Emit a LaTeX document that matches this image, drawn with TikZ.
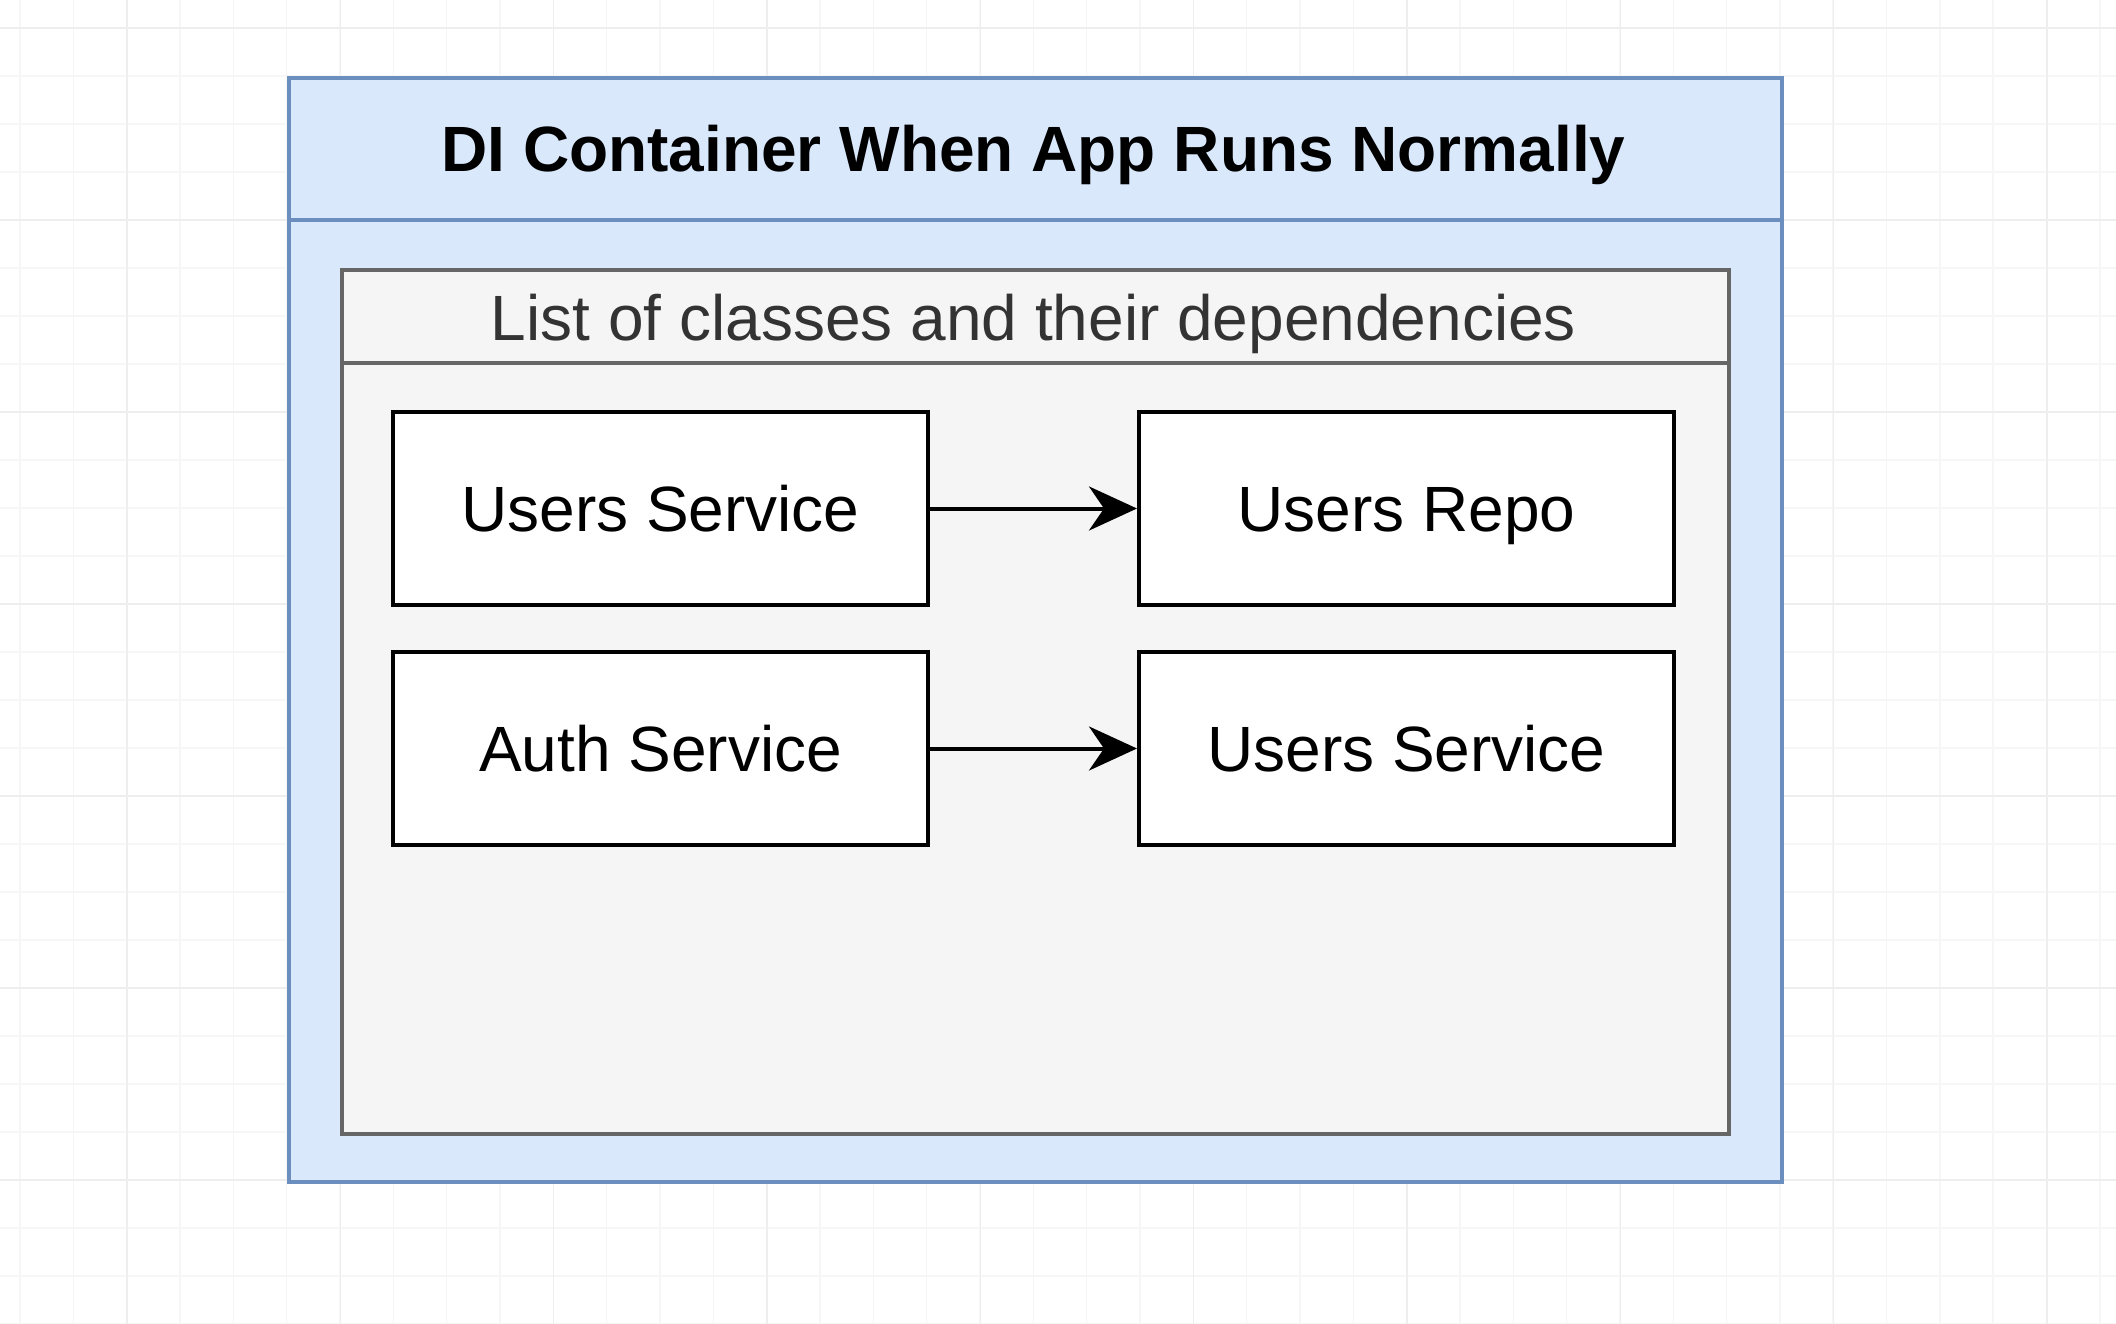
\documentclass[tikz,border=0pt]{standalone}
\usepackage{fontspec}
\setmainfont{Liberation Sans}
\usetikzlibrary{arrows.meta}
\definecolor{outerfill}{HTML}{DAE8FC}
\definecolor{outerdraw}{HTML}{6C8EBF}
\definecolor{innerfill}{HTML}{F5F5F5}
\definecolor{innerdraw}{HTML}{666666}
\definecolor{innertext}{HTML}{333333}
\definecolor{gridminor}{HTML}{F6F6F6}
\definecolor{gridmajor}{HTML}{EEEEEE}
\begin{document}
\begin{tikzpicture}[x=1pt,y=-1pt,
  bigfont/.style={font=\fontsize{64}{76}\selectfont},
  outerbox/.style={draw=outerdraw, fill=outerfill, line width=4pt, rectangle, inner sep=0pt, anchor=north west},
  innerbox/.style={draw=innerdraw, fill=innerfill, line width=4pt, rectangle, inner sep=0pt, anchor=north west},
  classbox/.style={draw=black, fill=white, line width=4pt, rectangle, inner sep=0pt,
     minimum width=535pt, minimum height=193pt, bigfont, text height=46pt, text depth=0pt},
  titletext/.style={font=\fontsize{64}{76}\selectfont\bfseries, inner sep=0pt, text height=46pt, text depth=0pt},
  headtext/.style={bigfont, text=innertext, inner sep=0pt, text height=46pt, text depth=0pt},
  dep/.style={draw=black, line width=4pt, -{Stealth[length=48pt, width=44pt, inset=15pt]}}
]
\useasboundingbox (0,0) rectangle (2116,1324);
\fill[white] (0,0) rectangle (2116,1324);
% background grid
\foreach \k in {0,...,39} {
  \draw[gridminor, line width=1.5pt] ({20+53.33*\k},0) -- ({20+53.33*\k},1324);
}
\foreach \k in {0,...,27} {
  \draw[gridminor, line width=1.5pt] (0,{28+48*\k}) -- (2116,{28+48*\k});
}
\foreach \k in {0,...,9} {
  \draw[gridmajor, line width=1.5pt] ({127+213.33*\k},0) -- ({127+213.33*\k},1324);
}
\foreach \k in {0,...,6} {
  \draw[gridmajor, line width=1.5pt] (0,{28+192*\k}) -- (2116,{28+192*\k});
}

% outer container
\node[outerbox, minimum width=1493pt, minimum height=1104pt] (outer) at (287,76) {};
\draw[outerdraw, line width=4pt] (287,220) -- (1780,220);
\node[titletext] (title) at (1033.5,149) {DI Container When App Runs Normally};

% inner list
\node[innerbox, minimum width=1387pt, minimum height=864pt] (inner) at (340,268) {};
\draw[innerdraw, line width=4pt] (340,363) -- (1727,363);
\node[headtext] (head) at (1033.5,317) {List of classes and their dependencies};

% class boxes
\node[classbox] (us1) at (660.5,508.5) {Users Service};
\node[classbox] (ur) at (1406.5,508.5) {Users Repo};
\node[classbox] (as) at (660.5,748.5) {Auth Service};
\node[classbox] (us2) at (1406.5,748.5) {Users Service};

\draw[dep] (us1) -- (ur);
\draw[dep] (as) -- (us2);
\end{tikzpicture}
\end{document}
